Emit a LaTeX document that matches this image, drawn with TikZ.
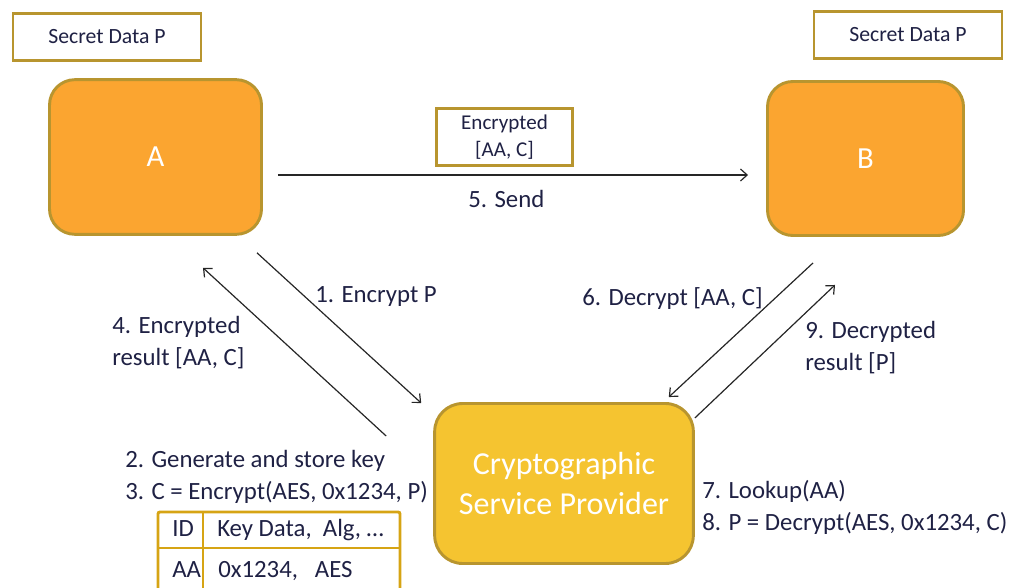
\documentclass[tikz,border=0pt]{standalone}
\usepackage{fontspec}
\setmainfont{Carlito}
\usepackage{tikz}
\usetikzlibrary{positioning,calc,arrows.meta}
\definecolor{KeyOrange}{HTML}{FBA530}
\definecolor{KeyYellow}{HTML}{F5C430}
\definecolor{KeyRim}{HTML}{B8952F}
\definecolor{KeyTable}{HTML}{D6A414}
\definecolor{KeyText}{HTML}{1F2144}

\begin{document}
\begin{tikzpicture}[>={Straight Barb[length=5pt,width=9pt]},x=0.75pt,y=-0.75pt]
    \tikzstyle{party}=[draw=KeyRim,fill=KeyOrange,line width=2.2pt,
      rounded corners=19pt,text=white,font=\fontsize{23}{27}\selectfont]
    \tikzstyle{databox}=[draw=KeyRim,fill=white,line width=2.2pt,
      minimum width=141pt,minimum height=35pt,text=KeyText,
      font=\fontsize{16.3}{19.5}\selectfont]
    \tikzstyle{steplabel}=[text=KeyText,align=left,anchor=base west,
      inner sep=0pt,font=\fontsize{18.6}{24}\selectfont]
    \tikzstyle{flow}=[->,draw=black!85,line width=0.9pt]
    \useasboundingbox (0,0) rectangle (1016,588);
    % parties and the service provider
    \node[party,minimum width=159pt,minimum height=116pt] (A) at (155.5,157) {A};
    \node[party,minimum width=147pt,minimum height=115.5pt] (B) at (865.5,158.5) {B};
    \node[party,fill=KeyYellow,minimum width=194pt,minimum height=120pt,
      rounded corners=21pt,align=center,
      font=\fontsize{24}{30}\selectfont] (csp) at (564,483.5)
      {Cryptographic\\Service Provider};
    \node[databox] (dataA) at (107,37) {Secret Data P};
    \node[databox] (dataB) at (908,35) {Secret Data P};
    \node[databox,minimum width=102pt,minimum height=42.75pt,align=center,
      font=\fontsize{15.8}{20}\selectfont] (msg) at (504.5,137)
      {Encrypted\\{[AA, C]}};
    % step labels (multi-line ones sit on their last baseline)
    \node[steplabel] (l1) at (315,302) {1. Encrypt P};
    \node[steplabel] (l4) at (112,365) {4. Encrypted\\result [AA, C]};
    \node[steplabel] (l5) at (468,207) {5. Send};
    \node[steplabel] (l6) at (582,305) {6. Decrypt [AA, C]};
    \node[steplabel] (l9) at (805,370) {9. Decrypted\\result [P]};
    \node[steplabel] (l23) at (125,499)
      {2. Generate and store key\\3. C = Encrypt(AES, 0x1234, P)};
    \node[steplabel] (l78) at (702,530)
      {7. Lookup(AA)\\8. P = Decrypt(AES, 0x1234, C)};
    % key table, runs off the bottom edge
    \begin{scope}
      \clip (0,0) rectangle (1016,588);
      \draw[KeyTable,line width=2.2pt,rounded corners=1.5pt]
        (158,600) -- (158,512) -- (400,512) -- (400,600);
      \draw[KeyTable,line width=2.2pt] (158,548) -- (400,548) (203,512) -- (203,600);
    \end{scope}
    \node[steplabel] (idhead) at (172,536) {ID};
    \node[steplabel] (keyhead) at (217,536) {Key Data,\ \ Alg, …};
    \node[steplabel] (idrow) at (172,577) {AA};
    \node[steplabel] (keyrow) at (218,577) {0x1234,\ \ \ AES};
    % connector ends
    \coordinate (encOut) at ($(A.south east)+(-6,17)$);
    \coordinate (encIn) at ($(csp.north west)+(-12,1)$);
    \coordinate (resOut) at ($(csp.north west)+(-47,34)$);
    \coordinate (resIn) at ($(A.south east)+(-60,32)$);
    \coordinate (sendOut) at ($(A.east)+(15,18)$);
    \coordinate (sendIn) at ($(B.west)+(-18,16.5)$);
    \coordinate (decOut) at ($(B.south)+(-52.5,26)$);
    \coordinate (decIn) at ($(csp.north east)+(-26,-5)$);
    \coordinate (plainOut) at ($(csp.north east)+(0,16)$);
    \coordinate (plainIn) at ($(B.south)+(-30.5,48)$);
    \draw[flow] (encOut) -- (encIn);
    \draw[flow] (resOut) -- (resIn);
    \draw[flow] (sendOut) -- (sendIn);
    \draw[flow] (decOut) -- (decIn);
    \draw[flow] (plainOut) -- (plainIn);
  \end{tikzpicture}
\end{document}
